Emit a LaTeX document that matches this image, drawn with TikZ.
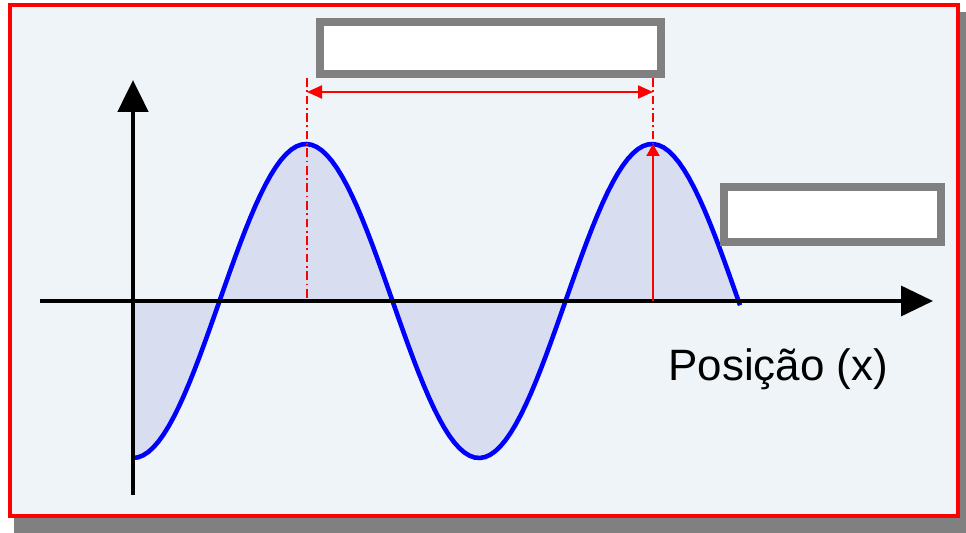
\documentclass[tikz,border=0pt]{standalone}
\usepackage{fontspec}
\setmainfont{Liberation Sans}
\usetikzlibrary{arrows.meta,positioning}
\definecolor{frameRed}{RGB}{255,0,0}
\definecolor{shadowGray}{RGB}{128,128,128}
\definecolor{paperBlue}{RGB}{238,244,247}
\definecolor{waveBlue}{RGB}{0,0,255}
\definecolor{waveFill}{RGB}{216,222,240}
\definecolor{boxGray}{RGB}{128,128,128}

\tikzset{
  emptybox/.style={rectangle, draw=boxGray, line width=4.5pt, fill=white, inner sep=0pt},
  axisline/.style={-{Triangle[length=0.64cm, width=0.6cm]}, black},
  guide/.style={frameRed, line width=0.9pt, dash pattern=on 5pt off 2pt on 1pt off 2pt},
  measure/.style={frameRed, line width=1.1pt}
}

\begin{document}
\begin{tikzpicture}[x=0.02cm, y=-0.02cm]
    \useasboundingbox (0,0) rectangle (966,533);
    % frame with shadow
    \fill[shadowGray] (14,12) rectangle (966,533);
    \draw[frameRed, line width=2.3pt, fill=paperBlue] (10,5) rectangle (958,516);

    \coordinate (origin) at (133,301);
    \coordinate (xstart) at (40,301);
    \coordinate (xend) at (933,301);
    \coordinate (ybottom) at (133,495);
    \coordinate (ytop) at (133,80);
    \coordinate (waveend) at (740,301);
    \coordinate (crestA) at (307,144);
    \coordinate (crestB) at (653,144);
    \coordinate (guideA) at (307,78);
    \coordinate (guideB) at (653,78);
    \coordinate (baseA) at (307,301);
    \coordinate (baseB) at (653,301);

    % wave
    \fill[waveFill] (origin) -- plot[domain=133:740, samples=120]
      (\x, {301+157*cos((\x-133)/346*360)}) -- (waveend) -- cycle;
    \draw[waveBlue, line width=1.8pt] (origin) -- (waveend);
    \draw[waveBlue, line width=2.6pt] plot[domain=133:740, samples=120]
      (\x, {301+157*cos((\x-133)/346*360)});

    % axes
    \draw[axisline, line width=1.9pt] (xstart) -- (xend);
    \draw[axisline, line width=2.8pt] (ybottom) -- (ytop);

    % wavelength and amplitude marks
    \draw[guide] (guideA) -- (baseA);
    \draw[guide] (guideB) -- (crestB);
    \draw[measure, {Triangle[length=0.3cm, width=0.26cm]}-{Triangle[length=0.3cm, width=0.26cm]}]
      ([yshift=-0.28cm]guideA) -- ([yshift=-0.28cm]guideB);
    \draw[measure, -{Triangle[length=0.24cm, width=0.26cm]}] (baseB) -- (crestB);

    % blank label boxes
    \node[emptybox, minimum width=6.82cm, minimum height=1.04cm] (wavelengthbox) at (490.5,48) {};
    \node[emptybox, minimum width=4.34cm, minimum height=1.1cm] (amplitudebox) at (832.5,214.5) {};

    \node[anchor=base west, inner sep=0pt, font=\fontsize{25}{30}\selectfont] (xlabel) at (668,380) {Posição (x)};
  \end{tikzpicture}
\end{document}
